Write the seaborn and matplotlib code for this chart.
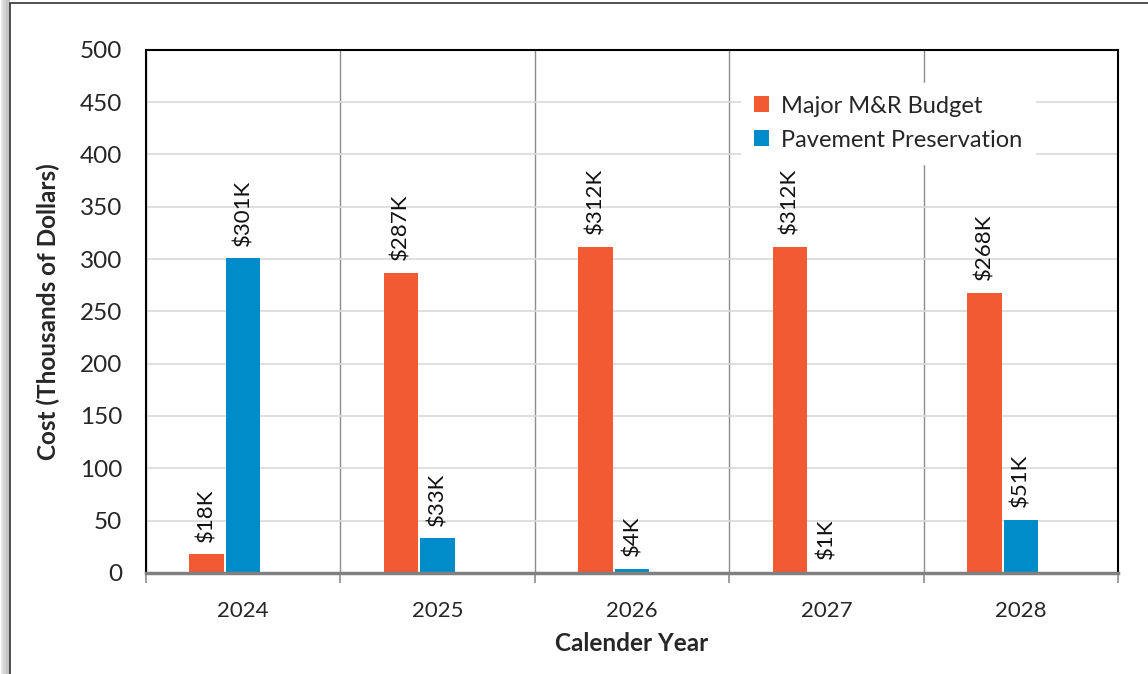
import pandas as pd
import seaborn as sns
import matplotlib.pyplot as plt
from matplotlib.patches import Rectangle

years = ["2024", "2025", "2026", "2027", "2028"]
major_mr = [18, 287, 312, 312, 268]
pavement = [301, 33, 4, 1, 51]
series_names = ["Major M&R Budget", "Pavement Preservation"]
colors = ["#F15A32", "#008CC9"]

df = pd.DataFrame({
    "year": years * 2,
    "cost": major_mr + pavement,
    "series": [series_names[0]] * len(years) + [series_names[1]] * len(years),
})

sns.set_theme(style="white")
plt.rcParams["font.family"] = ["Lato", "DejaVu Sans"]

fig = plt.figure(figsize=(11.48, 6.74), dpi=100)
ax = fig.add_axes([0.127, 0.150, 0.847, 0.776])

# third empty hue slot so the pair sits left of centre like the original
hue_order = series_names + ["_pad"]
palette = dict(zip(hue_order, colors + ["white"]))
sns.barplot(data=df, x="year", y="cost", hue="series", hue_order=hue_order,
            palette=palette, width=0.565, gap=0.06, saturation=1,
            linewidth=0, ax=ax, legend=True)

for cont in ax.containers:
    vals = cont.datavalues
    ax.bar_label(cont, labels=[f"${v:.0f}K" for v in vals], rotation=90,
                 padding=9, fontsize=16, color="#111111")

ax.set_ylim(0, 500)
ax.set_yticks(range(0, 501, 50))
ax.set_xlim(-0.5, len(years) - 0.5)
ax.set_xticks([i + 0.5 for i in range(-1, len(years))], minor=True)
ax.tick_params(axis="x", which="major", length=0, labelsize=16, pad=20)
ax.tick_params(axis="x", which="minor", length=7, width=1.2, color="#8C8C8C",
               bottom=True)
ax.tick_params(axis="y", length=0, labelsize=17.5, pad=17)
ax.grid(axis="y", color="#D9D9D9", linewidth=1.2)
ax.grid(axis="x", which="minor", color="#8C8C8C", linewidth=1)
ax.set_axisbelow(True)

for side in ["left", "top", "right"]:
    ax.spines[side].set_color("black")
    ax.spines[side].set_linewidth(1.5)
ax.spines["bottom"].set_color("#808080")
ax.spines["bottom"].set_linewidth(2.5)

ax.set_xlabel("Calender Year", fontsize=17.5, fontweight="bold", labelpad=8)
ax.set_ylabel("Cost (Thousands of Dollars)", fontsize=17.5, fontweight="bold",
              labelpad=14)

h, l = ax.get_legend_handles_labels()
keep = [i for i, lab in enumerate(l) if lab in series_names]
leg = ax.legend([h[i] for i in keep], [l[i] for i in keep],
                loc="upper left", bbox_to_anchor=(0.6, 0.96), fontsize=17,
                frameon=True, fancybox=False, handlelength=0.65,
                handleheight=0.65, handletextpad=0.5, labelspacing=0.55,
                borderpad=0.55)
leg.get_frame().set_edgecolor("white")
leg.get_frame().set_facecolor("white")
leg.get_frame().set_alpha(1)

# outer frame with a soft shadow on the left, as in the screenshot
for i, c in enumerate(["#E6E6E6", "#D4D4D4", "#C4C4C4"]):
    fig.patches.append(Rectangle((0.001 + i * 0.002, -0.1), 0.004, 1.2,
                                 transform=fig.transFigure, facecolor=c,
                                 edgecolor="none", zorder=-3))
fig.patches.append(Rectangle((0.0085, -0.1), 1.2, 1.0955,
                             transform=fig.transFigure, facecolor="white",
                             edgecolor="#333333", linewidth=1.2, zorder=-2))

fig.savefig("out.png", dpi=100)
